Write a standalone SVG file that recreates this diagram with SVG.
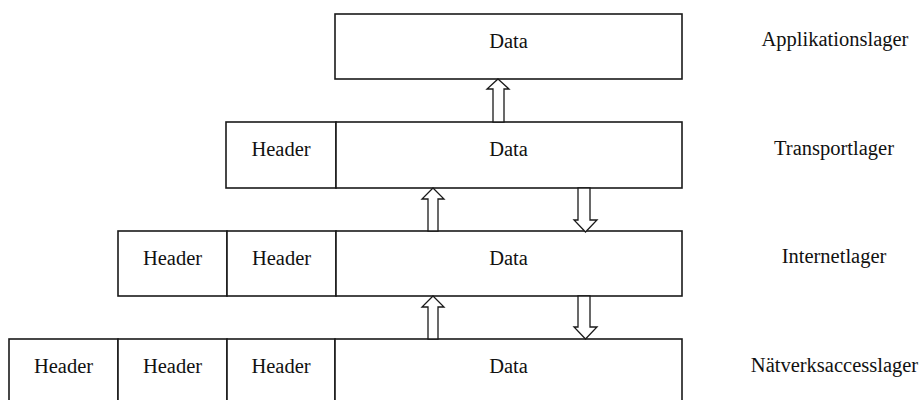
<svg xmlns="http://www.w3.org/2000/svg" width="924" height="400" viewBox="0 0 924 400">
  <style>
    .box { fill: #ffffff; stroke: #1a1a1a; stroke-width: 1.6; }
    .arrow { fill: #ffffff; stroke: #1a1a1a; stroke-width: 1.3; stroke-linejoin: miter; }
    .txt { font-family: "Liberation Serif", "Times New Roman", serif; font-size: 20.5px; fill: #111111; text-anchor: middle; }
  </style>
  <rect x="0" y="0" width="924" height="400" fill="#ffffff"/>

  <!-- Application layer -->
  <g id="app-row">
    <rect class="box" x="335" y="14" width="347" height="65"/>
    <text class="txt" x="508.5" y="48">Data</text>
  </g>

  <!-- Transport layer -->
  <g id="transport-row">
    <rect class="box" x="226" y="122" width="110" height="66"/>
    <rect class="box" x="336" y="122" width="346" height="66"/>
    <text class="txt" x="281" y="156">Header</text>
    <text class="txt" x="508.5" y="156">Data</text>
  </g>

  <!-- Internet layer -->
  <g id="internet-row">
    <rect class="box" x="118" y="231" width="109" height="65"/>
    <rect class="box" x="227" y="231" width="109" height="65"/>
    <rect class="box" x="336" y="231" width="346" height="65"/>
    <text class="txt" x="172.5" y="265">Header</text>
    <text class="txt" x="281.5" y="265">Header</text>
    <text class="txt" x="508.5" y="265">Data</text>
  </g>

  <!-- Network access layer -->
  <g id="network-row">
    <rect class="box" x="9" y="339" width="109" height="70"/>
    <rect class="box" x="118" y="339" width="109" height="70"/>
    <rect class="box" x="227" y="339" width="108" height="70"/>
    <rect class="box" x="335" y="339" width="347" height="70"/>
    <text class="txt" x="63.5" y="373">Header</text>
    <text class="txt" x="172.5" y="373">Header</text>
    <text class="txt" x="281" y="373">Header</text>
    <text class="txt" x="508.5" y="373">Data</text>
  </g>

  <!-- Layer names -->
  <g id="layer-labels">
    <text class="txt" x="835" y="46">Applikationslager</text>
    <text class="txt" x="834" y="155">Transportlager</text>
    <text class="txt" x="834" y="263">Internetlager</text>
    <text class="txt" x="834.5" y="372">Nätverksaccesslager</text>
  </g>

  <!-- Hollow block arrows between layers -->
  <g id="connectors">
    <polygon class="arrow" points="498,79 509,89 504,89 504,122 493,122 493,89 487,89"/>
    <polygon class="arrow" points="433,188 444,199 438,199 438,231 428,231 428,199 422,199"/>
    <polygon class="arrow" points="578,188 590,188 590,220 597,220 585.5,232 574,220 578,220"/>
    <polygon class="arrow" points="433,296 444,307 438,307 438,339 428,339 428,307 422,307"/>
    <polygon class="arrow" points="578,296 590,296 590,327 597,327 585.5,339 574,327 578,327"/>
  </g>
</svg>
